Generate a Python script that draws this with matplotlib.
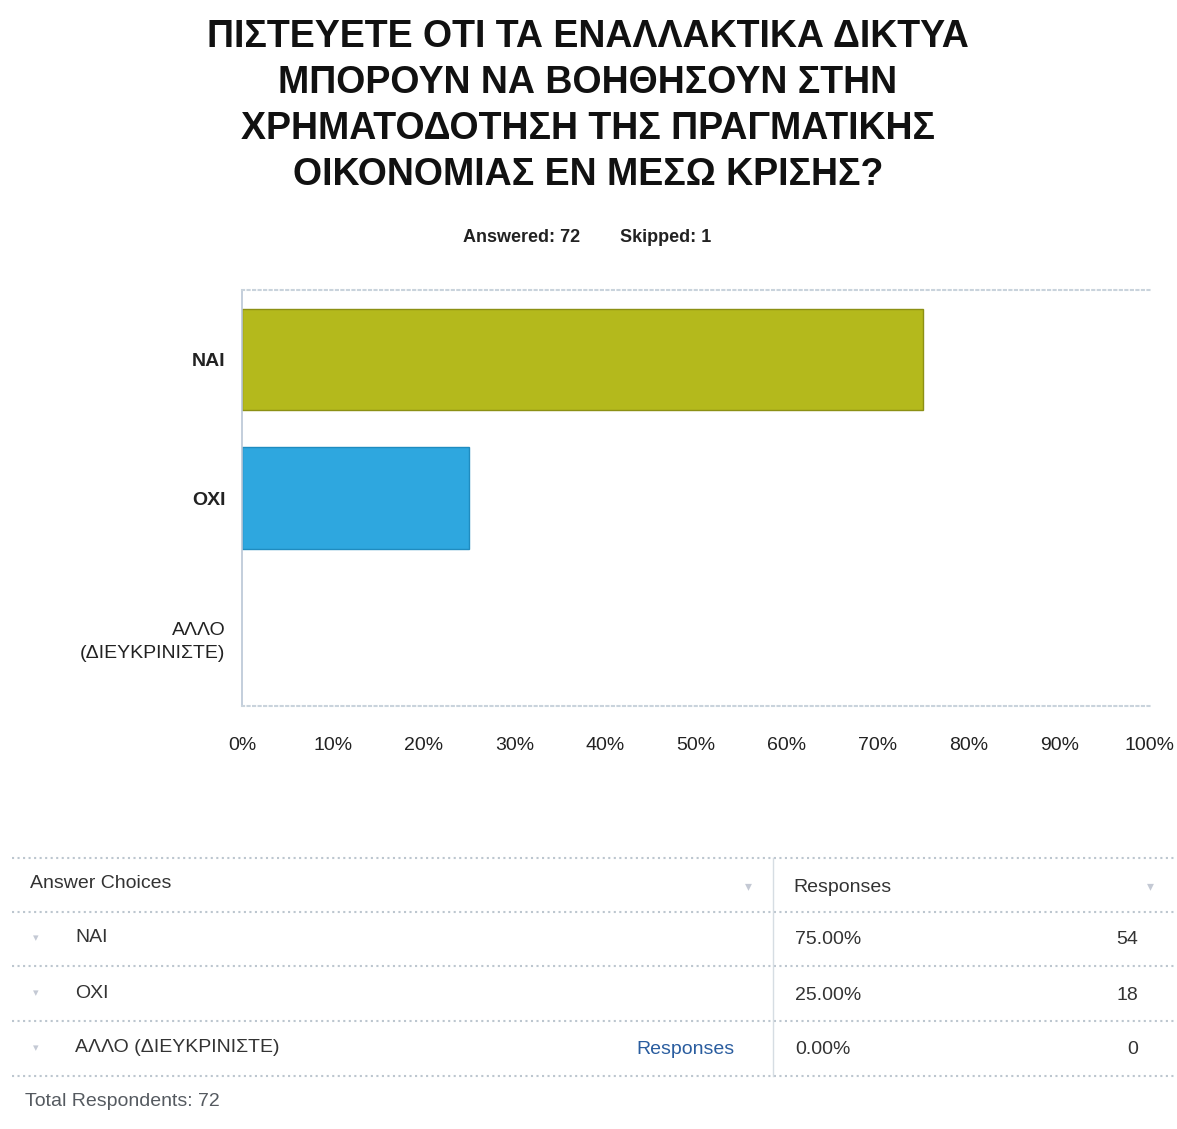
import numpy as np
import matplotlib.pyplot as plt
from matplotlib.lines import Line2D

# survey results
categories = ['ΝΑΙ', 'ΟΧΙ', 'ΑΛΛΟ\n(ΔΙΕΥΚΡΙΝΙΣΤΕ)']
table_names = ['ΝΑΙ', 'ΟΧΙ', 'ΑΛΛΟ (ΔΙΕΥΚΡΙΝΙΣΤΕ)']
percent = [75.0, 25.0, 0.0]
counts = [54, 18, 0]
answered = 72
skipped = 1
bar_colors = ['#b4b91c', '#2ea7df', '#8a9a3a']
edge_colors = ['#8c9014', '#1f8cc0', '#8a9a3a']
xticks = np.arange(0, 101, 10)

title_lines = ['ΠΙΣΤΕΥΕΤΕ ΟΤΙ ΤΑ ΕΝΑΛΛΑΚΤΙΚΑ ΔΙΚΤΥΑ',
               'ΜΠΟΡΟΥΝ ΝΑ ΒΟΗΘΗΣΟΥΝ ΣΤΗΝ',
               'ΧΡΗΜΑΤΟΔΟΤΗΣΗ ΤΗΣ ΠΡΑΓΜΑΤΙΚΗΣ',
               'ΟΙΚΟΝΟΜΙΑΣ ΕΝ ΜΕΣΩ ΚΡΙΣΗΣ?']

plt.rcParams['font.family'] = ['Liberation Sans', 'DejaVu Sans']

W, H = 1177, 1129
fig = plt.figure(figsize=(W / 100, H / 100), dpi=100)
fig.patch.set_facecolor('white')


def fx(x):
    return x / W


def fy(y):
    return 1 - y / H


# title, one line at a time
for i, line in enumerate(title_lines):
    fig.text(fx(588), fy(37 + 46 * i), line, ha='center', va='center',
             fontsize=27, fontweight='bold', color='#111111')

fig.text(fx(522), fy(237), 'Answered: %d' % answered, ha='center',
         va='center', fontsize=13, fontweight='bold', color='#222222')
fig.text(fx(666), fy(237), 'Skipped: %d' % skipped, ha='center',
         va='center', fontsize=13, fontweight='bold', color='#222222')

# bar chart
ax = fig.add_axes([fx(242), fy(706), (1150 - 242) / W, (706 - 290) / H])
y = np.arange(len(categories))
widths = [1 if p > 0 else 0 for p in percent]
ax.barh(y, percent, height=0.73, color=bar_colors,
        edgecolor=edge_colors, linewidth=widths)
ax.set_xlim(0, 100)
ax.set_ylim(len(categories) - 0.5, -0.5)
ax.set_yticks(y)
ax.set_yticklabels(categories, fontsize=14, color='#222222', linespacing=1.45)
for lab, cat in zip(ax.get_yticklabels(), categories):
    if '\n' not in cat:
        lab.set_fontweight('bold')
ax.set_xticks(xticks)
ax.set_xticklabels(['%d%%' % t for t in xticks], fontsize=14,
                   color='#222222')
ax.tick_params(length=0)
ax.tick_params(axis='x', pad=22)
ax.tick_params(axis='y', pad=12)
ax.spines['left'].set_color('#b9c6d6')
ax.spines['left'].set_linewidth(1.2)
for side in ['top', 'bottom']:
    ax.spines[side].set_color('#c9d3dc')
    ax.spines[side].set_linestyle(':')
    ax.spines[side].set_linewidth(1.5)
ax.spines['right'].set_visible(False)

# responses table
line_kw = dict(color='#bcc6cf', linestyle=':', linewidth=1.5,
               transform=fig.transFigure)
for yy in [858, 912, 966, 1021, 1076]:
    fig.add_artist(Line2D([fx(12), fx(1175)], [fy(yy), fy(yy)], **line_kw))
fig.add_artist(Line2D([fx(773), fx(773)], [fy(858), fy(1076)],
                      color='#d6dde3', linewidth=1, transform=fig.transFigure))

txt = '#333333'
fig.text(fx(30), fy(884), 'Answer Choices', ha='left', va='center',
         fontsize=14, color=txt)
fig.text(fx(793), fy(887), 'Responses', ha='left', va='center',
         fontsize=14, color=txt)
fig.text(fx(748), fy(886), '▾', ha='center', va='center', fontsize=10,
         color='#c4c9d4', family=['DejaVu Sans'])
fig.text(fx(1150), fy(886), '▾', ha='center', va='center', fontsize=10,
         color='#c4c9d4', family=['DejaVu Sans'])

row_y = [938, 993, 1048]
for i, ry in enumerate(row_y):
    fig.text(fx(36), fy(ry), '▾', ha='center', va='center', fontsize=8,
             color='#c4c9d4', family=['DejaVu Sans'])
    fig.text(fx(75), fy(ry), table_names[i], ha='left', va='center',
             fontsize=14, color=txt)
    fig.text(fx(795), fy(ry + 2), '%.2f%%' % percent[i], ha='left',
             va='center', fontsize=14, color=txt)
    fig.text(fx(1138), fy(ry + 2), str(counts[i]), ha='right',
             va='center', fontsize=14, color=txt)
fig.text(fx(735), fy(row_y[2] + 2), 'Responses', ha='right', va='center',
         fontsize=14, color='#2a5d9f')

fig.text(fx(25), fy(1102), 'Total Respondents: %d' % answered, ha='left',
         va='center', fontsize=14, color='#555a60')

fig.savefig('out.png', dpi=100, facecolor='white')
